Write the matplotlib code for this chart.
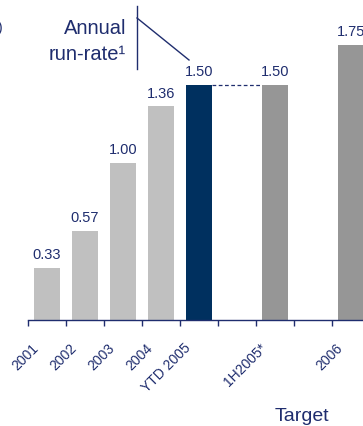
import matplotlib
matplotlib.use('Agg')
import matplotlib.pyplot as plt
from matplotlib.lines import Line2D

plt.rcParams['font.family'] = ['Liberation Sans', 'DejaVu Sans']

navy = '#1F2D6E'
categories = ['2001', '2002', '2003', '2004', 'YTD 2005', '', '1H2005*', '', '2006']
values = [0.33, 0.57, 1.00, 1.36, 1.50, None, 1.50, None, 1.75]
colors = ['#C0C0C0', '#C0C0C0', '#C0C0C0', '#C0C0C0', '#00305F', None, '#969696', None, '#969696']
value_labels = ['0.33', '0.57', '1.00', '1.36', '1.50', '', '1.50', '', '1.75']

fig = plt.figure(figsize=(3.63, 4.27), dpi=100)
W, H = 363.0, 427.0
ax = fig.add_axes([27.7/W, (H-321)/H, 1-27.7/W, 321/H])
ax.set_xlim(0, (W-27.7)/38.0)
ax.set_ylim(0, 321/157.0)

bw = 26/38.0
for i, (v, c, lab) in enumerate(zip(values, colors, value_labels)):
  if v is None:
    continue
  ax.bar(i+0.5, v, width=bw, color=c)
  ax.annotate(lab, (i+0.5, v), xytext=(0, 5), textcoords='offset points',
              ha='center', va='bottom', fontsize=10.5, color=navy)

# dashed link between YTD and 1H target
ax.plot([4.5+bw/2, 6.5-bw/2], [values[4], values[6]], linestyle=(0, (3, 2)),
        color=navy, lw=0.9)

for s in ['left', 'right', 'top']:
  ax.spines[s].set_visible(False)
ax.spines['bottom'].set_color(navy)
ax.spines['bottom'].set_linewidth(1.0)
ax.set_yticks([])
ax.set_xticks(range(0, 9))
ax.tick_params(axis='x', length=4, color=navy, labelbottom=False, width=1.0)

xt = ax.get_xaxis_transform()
for i, lab in enumerate(categories):
  if lab == '':
    continue
  ax.text(i+0.5-5.5/38.0, -20/321.0, lab, transform=xt, rotation=45,
          ha='right', va='top', fontsize=10, color=navy)

fig.text(302/W, 1-417/H, 'Target', ha='center', va='center', fontsize=14, color=navy)
fig.text(126/W, 1-34/H, 'Annual', ha='right', va='baseline', fontsize=14.5, color=navy)
fig.text(126/W, 1-60/H, 'run-rate\u00b9', ha='right', va='baseline', fontsize=14.5, color=navy)
fig.text(0.5/W, 1-28/H, ')', ha='center', va='center', fontsize=10, color=navy)

fig.add_artist(Line2D([137/W, 137/W], [1-7/H, 1-70/H], color=navy, lw=1.0))
fig.add_artist(Line2D([137/W, 189/W], [1-19/H, 1-61/H], color=navy, lw=1.0))

fig.savefig('out.png', dpi=100)
